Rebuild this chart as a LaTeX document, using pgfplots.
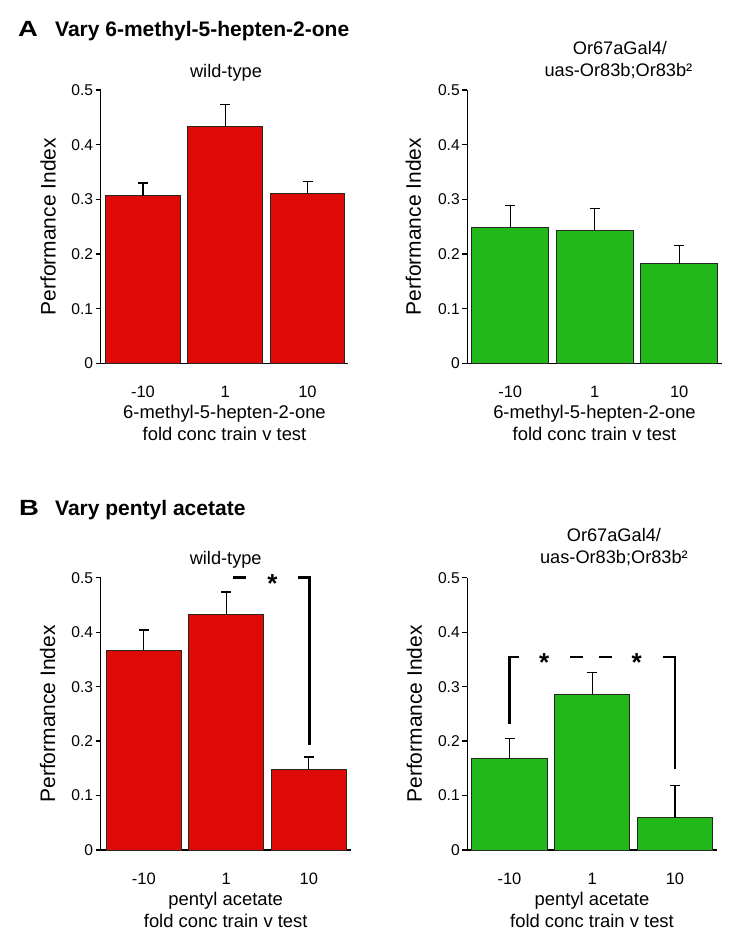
\documentclass[border=0pt]{standalone}
\usepackage{pgfplots}
\pgfplotsset{compat=1.18}
\usepackage{fontspec}
\setmainfont{Liberation Sans}
\usepackage{graphicx}
\definecolor{barred}{RGB}{221,10,6}
\definecolor{bargreen}{RGB}{34,184,26}
\pgfplotsset{
  panel/.style={
    scale only axis,
    anchor=south west,
    ymin=0, ymax=0.5,
    ytick={0,0.1,0.2,0.3,0.4,0.5},
    yticklabels={0,0.1,0.2,0.3,0.4,0.5},
    xtick={0,1,2},
    xticklabels={-10,1,10},
    axis x line=bottom, axis y line=left,
    axis line style={line width=1.3pt, -},
    major tick length=5pt,
    tick align=outside,
    xtick style={draw=none},
    ytick style={line width=1.3pt, black},
    yticklabel style={font=\fontsize{15.6}{18}\selectfont, anchor=east, inner sep=0pt, xshift=-2.4pt},
    xticklabel style={font=\fontsize{16.5}{19}\selectfont, anchor=north, inner sep=0pt, yshift=-17.5pt},
    ylabel={Performance Index},
    ylabel style={font=\fontsize{21}{24}\selectfont, at={(axis description cs:-0.212,0.5)}, anchor=center},
    xlabel style={font=\fontsize{18.4}{22}\selectfont, align=center, at={(axis description cs:0.5,0)}, anchor=north, inner sep=0pt, yshift=-41.7pt},
    clip=false,
  },
  bars/.style={ybar, bar width=0.91, fill=#1, draw=black!85, line width=1pt,
    error bars/.cd, y dir=plus, y explicit,
    error bar style={line width=1.3pt, black},
    error mark options={rotate=90, mark size=5pt, line width=1.3pt, black}},
  sig/.style={black, line width=2.5pt, forget plot, no marks},
}
\pgfplotstableread{
x y e
0 0.307 0.023
1 0.433 0.041
2 0.310 0.023
}\tabAwt
\pgfplotstableread{
x y e
0 0.249 0.040
1 0.243 0.040
2 0.182 0.033
}\tabAmut
\pgfplotstableread{
x y e
0 0.367 0.037
1 0.433 0.041
2 0.148 0.023
}\tabBwt
\pgfplotstableread{
x y e
0 0.168 0.037
1 0.286 0.040
2 0.059 0.060
}\tabBmut
\begin{document}
\begin{tikzpicture}
\useasboundingbox (0,0) rectangle (750pt,-948pt);
% headings
\node[anchor=base west, inner sep=0pt, font=\fontsize{22}{26}\selectfont\bfseries] at (18pt,-36pt) {\scalebox{1.25}[1]{A}};
\node[anchor=base west, inner sep=0pt, font=\fontsize{21}{25}\selectfont\bfseries] at (55pt,-36pt) {Vary 6-methyl-5-hepten-2-one};
\node[anchor=base west, inner sep=0pt, font=\fontsize{22}{26}\selectfont\bfseries] at (19pt,-515.7pt) {\scalebox{1.25}[1]{B}};
\node[anchor=base west, inner sep=0pt, font=\fontsize{21}{25}\selectfont\bfseries] at (55pt,-515.7pt) {Vary pentyl acetate};

% A left
\begin{axis}[panel, at={(100.7pt,-363.3pt)}, width=247.6pt, height=273.3pt,
  xmin=-0.514, xmax=2.496,
  xlabel={6-methyl-5-hepten-2-one\\fold conc train v test}]
\addplot[bars=barred] table[x=x, y=y, y error=e] {\tabAwt};
\node[anchor=base, inner sep=0pt, yshift=12.5pt, font=\fontsize{18.2}{22}\selectfont] at (axis description cs:0.506,1) {wild-type};
\end{axis}

% A right
\begin{axis}[panel, at={(467.3pt,-363.3pt)}, width=254.4pt, height=273.3pt,
  xmin=-0.508, xmax=2.503,
  xlabel={6-methyl-5-hepten-2-one\\fold conc train v test}]
\addplot[bars=bargreen] table[x=x, y=y, y error=e] {\tabAmut};
\node[anchor=base, inner sep=0pt, yshift=36pt, font=\fontsize{18.2}{22}\selectfont] at (axis description cs:0.600,1) {Or67aGal4/};
\node[anchor=base, inner sep=0pt, yshift=13.8pt, font=\fontsize{18.2}{22}\selectfont] at (axis description cs:0.594,1) {uas-Or83b;Or83b²};
\end{axis}

% B left
\begin{axis}[panel, at={(100.7pt,-850pt)}, width=250pt, height=272.3pt,
  xmin=-0.522, xmax=2.508,
  xlabel={pentyl acetate\\fold conc train v test}]
\addplot[bars=barred] table[x=x, y=y, y error=e] {\tabBwt};
\addplot[sig] coordinates {(1.085,0.5) (1.24,0.5)};
\addplot[sig] coordinates {(1.865,0.5) (2.006,0.5) (2.006,0.192)};
\node[inner sep=0pt, yshift=-5.7pt, font=\fontsize{26}{30}\selectfont\bfseries] at (axis cs:1.56,0.5) {*};
\node[anchor=base, inner sep=0pt, yshift=13pt, font=\fontsize{18.2}{22}\selectfont] at (axis description cs:0.5,1) {wild-type};
\end{axis}

% B right
\begin{axis}[panel, at={(467.3pt,-850pt)}, width=249.4pt, height=272.3pt,
  xmin=-0.51, xmax=2.504,
  xlabel={pentyl acetate\\fold conc train v test}]
\addplot[bars=bargreen] table[x=x, y=y, y error=e] {\tabBmut};
\addplot[sig] coordinates {(0,0.231) (0,0.354) (0.115,0.354)};
\addplot[sig] coordinates {(0.73,0.354) (0.885,0.354)};
\addplot[sig] coordinates {(1.085,0.354) (1.24,0.354)};
\addplot[sig] coordinates {(1.85,0.354) (2.0,0.354) (2.0,0.149)};
\node[inner sep=0pt, yshift=-5.7pt, font=\fontsize{26}{30}\selectfont\bfseries] at (axis cs:0.42,0.354) {*};
\node[inner sep=0pt, yshift=-5.7pt, font=\fontsize{26}{30}\selectfont\bfseries] at (axis cs:1.537,0.354) {*};
\node[anchor=base, inner sep=0pt, yshift=36.7pt, font=\fontsize{18.2}{22}\selectfont] at (axis description cs:0.588,1) {Or67aGal4/};
\node[anchor=base, inner sep=0pt, yshift=14.4pt, font=\fontsize{18.2}{22}\selectfont] at (axis description cs:0.588,1) {uas-Or83b;Or83b²};
\end{axis}
\end{tikzpicture}
\end{document}
